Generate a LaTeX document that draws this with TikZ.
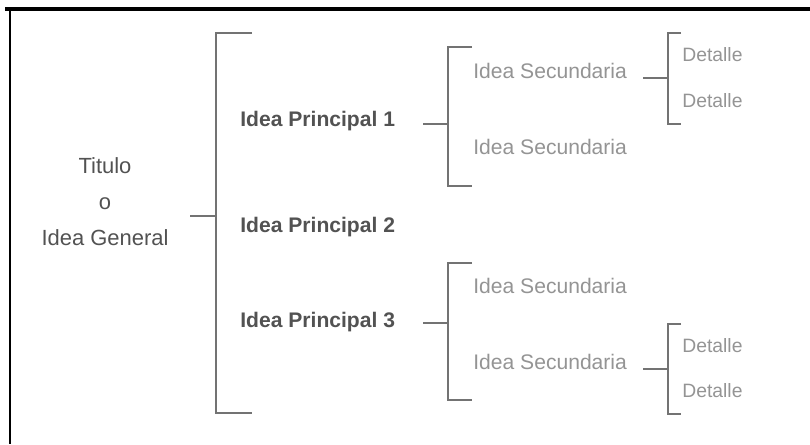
\documentclass[tikz,border=0pt]{standalone}
\usepackage{fontspec}
\setmainfont{Liberation Sans}
\usetikzlibrary{positioning}

\tikzset{
	brace/.style={line width=1.2pt, color=black!55},
	frameline/.style={color=black},
	titletext/.style={color=black!68, align=center, inner sep=0pt, font=\fontsize{12.5}{20.5}\selectfont},
	maintext/.style={anchor=west, inner sep=0pt, color=black!68, font=\bfseries\fontsize{12}{14}\selectfont},
	secondtext/.style={anchor=west, inner sep=0pt, color=black!42, font=\fontsize{12}{14}\selectfont},
	detailtext/.style={anchor=west, inner sep=0pt, color=black!42, font=\fontsize{11}{13}\selectfont}
}

\begin{document}
\begin{tikzpicture}[x=0.02cm, y=-0.02cm]
		%%%%% START %%%%%
		\useasboundingbox (0, 0) rectangle (810, 444);
		
		\draw[frameline, line width=2.8pt] (5, 9) -- (810, 9);
		\draw[frameline, line width=1.7pt] (10, 9) -- (10, 444);
		
		\node[titletext] (title) at (105, 202) {Titulo\\o\\Idea General};
		
		\coordinate (tstub) at (190, 216);
		\coordinate (bigtop) at (252, 33);
		\coordinate (bigmid) at (216, 216);
		\coordinate (bigbot) at (252, 413);
		\draw[brace] (tstub) -- (bigmid);
		\draw[brace] (bigtop) -| (bigmid) |- (bigbot);
		
		\node[maintext] (main1) at (240, 121) {Idea Principal 1};
		\node[maintext] (main2) at (240, 227) {Idea Principal 2};
		\node[maintext] (main3) at (240, 322) {Idea Principal 3};
		
		% secundarias de la idea 1
		\coordinate (m1stub) at (423, 124);
		\coordinate (m1top) at (472, 47);
		\coordinate (m1mid) at (448, 124);
		\coordinate (m1bot) at (472, 186);
		\draw[brace] (m1stub) -- (m1mid);
		\draw[brace] (m1top) -| (m1mid) |- (m1bot);
		
		\node[secondtext] (sec1) at (473, 71) {Idea Secundaria};
		\node[secondtext] (sec2) at (473, 147) {Idea Secundaria};
		
		\coordinate (s1stub) at (643, 78);
		\coordinate (s1top) at (681, 33);
		\coordinate (s1mid) at (668, 78);
		\coordinate (s1bot) at (681, 124);
		\draw[brace] (s1stub) -- (s1mid);
		\draw[brace] (s1top) -| (s1mid) |- (s1bot);
		
		\node[detailtext] (det1) at (682, 55) {Detalle};
		\node[detailtext] (det2) at (682, 101) {Detalle};
		
		% secundarias de la idea 3
		\coordinate (m3stub) at (423, 323);
		\coordinate (m3top) at (472, 263);
		\coordinate (m3mid) at (448, 323);
		\coordinate (m3bot) at (472, 400);
		\draw[brace] (m3stub) -- (m3mid);
		\draw[brace] (m3top) -| (m3mid) |- (m3bot);
		
		\node[secondtext] (sec3) at (473, 286) {Idea Secundaria};
		\node[secondtext] (sec4) at (473, 362) {Idea Secundaria};
		
		\coordinate (s4stub) at (643, 369);
		\coordinate (s4top) at (681, 324);
		\coordinate (s4mid) at (668, 369);
		\coordinate (s4bot) at (681, 414);
		\draw[brace] (s4stub) -- (s4mid);
		\draw[brace] (s4top) -| (s4mid) |- (s4bot);
		
		\node[detailtext] (det3) at (682, 346) {Detalle};
		\node[detailtext] (det4) at (682, 391) {Detalle};
		
		%%%%% END %%%%%
	\end{tikzpicture}
\end{document}
